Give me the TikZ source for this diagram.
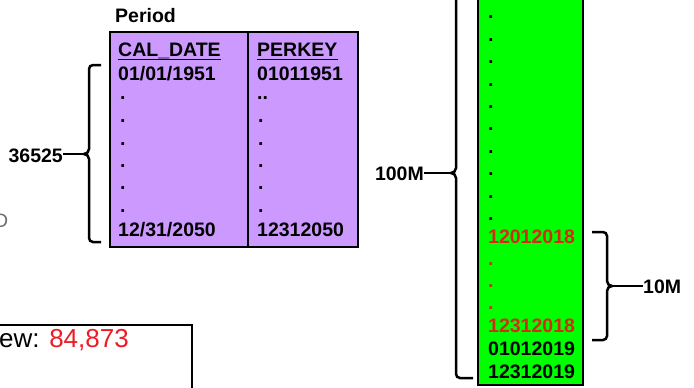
\documentclass[tikz,border=0pt]{standalone}
\usepackage{fontspec}
\setmainfont{Liberation Sans}
\definecolor{purp}{RGB}{204,153,255}
\definecolor{grn}{RGB}{0,255,0}
\definecolor{dred}{RGB}{210,45,20}
\definecolor{bred}{RGB}{237,28,36}
\definecolor{gtxt}{RGB}{110,110,110}
\begin{document}
\begin{tikzpicture}[x=1pt,y=-1pt,
  lbl/.style={font=\fontsize{19.5}{22}\selectfont\bfseries, inner sep=0pt, anchor=base west},
  lble/.style={font=\fontsize{19.5}{22}\selectfont\bfseries, inner sep=0pt, anchor=base east},
  dotx/.style={font=\fontsize{19.5}{22}\selectfont\bfseries, inner sep=0pt, anchor=base west},
  br/.style={line width=2.5pt, line cap=butt},
  box/.style={line width=2.2pt, draw=black}]
\useasboundingbox (0,0) rectangle (694,388);
\clip (0,0) rectangle (694,388);
\fill[white] (0,0) rectangle (694,388);

% Period table
\node[lbl] (period) at (115,22) {Period};
\draw[box, fill=purp] (110,32) rectangle (358,247);
\draw[box] (248,32) -- (248,247);
\node[lbl] (hcal) at (118,56.5) {CAL\_DATE};
\draw[line width=1.6pt] ([yshift=-2.8pt]hcal.base west) -- ([yshift=-2.8pt]hcal.base east);
\node[lbl] (hper) at (257,56.5) {PERKEY};
\draw[line width=1.6pt] ([yshift=-2.8pt]hper.base west) -- ([yshift=-2.8pt]hper.base east);
\node[lbl] (c1a) at (118,80) {01/01/1951};
\node[lbl] (c2a) at (257,80) {01011951};
\foreach \y [count=\i] in {99.3,122.3,145.3,167.3,189.3,212.3} {
  \node[dotx] (c1d\i) at (120,\y) {.};
}
\node[dotx] (c2d1) at (257,99.3) {..};
\foreach \y [count=\i from 2] in {122.3,145.3,167.3,189.3,212.3} {
  \node[dotx] (c2d\i) at (258,\y) {.};
}
\node[lbl] (c1b) at (118,236) {12/31/2050};
\node[lbl] (c2b) at (257,236) {12312050};

% left brace 36525
\draw[br] (101,65) -- (93,65) to[out=180,in=90] (89,69) -- (89,149)
  to[out=-90,in=0] (84,154) to[out=0,in=90] (89,159) -- (89,238)
  to[out=-90,in=180] (93,242) -- (101,242);
\coordinate (tipA) at (84,154);
\node[lble] (n36525) at (63,162) {36525};
\draw[br] (n36525.east |- tipA) -- (tipA);

% partial gray letter at left
\node[font=\fontsize{19.5}{22}\selectfont, text=gtxt, inner sep=0pt, anchor=base west] (dpart) at (-6,227) {D};

% bottom box
\draw[box] (-5,325) -- (192,325) -- (192,395);
\node[font=\fontsize{26}{30}\selectfont, inner sep=0pt, anchor=base west] (ew) at (-1,347) {ew: \textcolor{bred}{84,873}};

% green column
\draw[box, fill=grn] (478,-5) rectangle (583,385);
\foreach \y [count=\i] in {18,41,63,86,108,130,153,175,198,220} {
  \node[dotx] (gd\i) at (488,\y) {.};
}
\node[lbl, text=dred] (g1) at (488,243) {12012018};
\foreach \y [count=\i] in {265,287,309} {
  \node[dotx, text=dred] (rd\i) at (488,\y) {.};
}
\node[lbl, text=dred] (g2) at (488,332) {12312018};
\node[lbl] (g3) at (488,355) {01012019};
\node[lbl] (g4) at (488,378) {12312019};

% 100M brace
\draw[br] (456,-5) -- (456,168) to[out=-90,in=0] (451,173)
  to[out=0,in=90] (456,178) -- (456,374) to[out=-90,in=180] (460,378) -- (473,378);
\coordinate (tipB) at (451,173);
\node[lble] (n100) at (424,180) {100M};
\draw[br] (n100.east |- tipB) -- (tipB);

% 10M brace
\draw[br] (592,232) -- (603,232) to[out=0,in=90] (607,236) -- (607,281)
  to[out=-90,in=180] (612,286) to[out=180,in=90] (607,291) -- (607,336)
  to[out=-90,in=0] (603,340) -- (592,340);
\coordinate (tipC) at (612,286);
\node[lbl] (n10) at (643,293) {10M};
\draw[br] (tipC) -- (n10.west |- tipC);
\end{tikzpicture}
\end{document}
